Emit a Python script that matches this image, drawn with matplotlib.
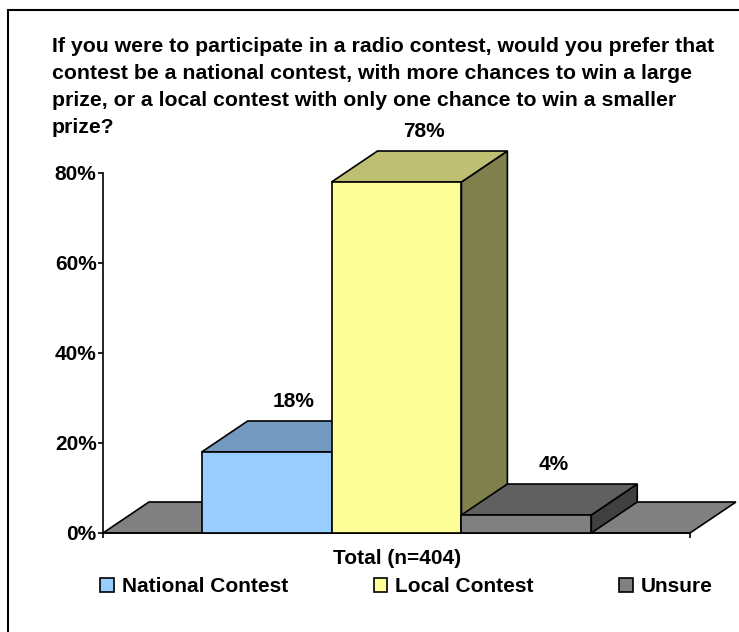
import matplotlib
matplotlib.use('Agg')
import matplotlib.pyplot as plt
from matplotlib.patches import Polygon, Rectangle, Patch

# chart data
categories = ['National Contest', 'Local Contest', 'Unsure']
values = [18, 78, 4]
value_labels = ['18%', '78%', '4%']
ytick_values = [0, 20, 40, 60, 80]
ytick_labels = ['0%', '20%', '40%', '60%', '80%']
group_label = 'Total (n=404)'
title_lines = [
    'If you were to participate in a radio contest, would you prefer that',
    'contest be a national contest, with more chances to win a large',
    'prize, or a local contest with only one chance to win a smaller',
    'prize?',
]

front_colors = ['#99CCFF', '#FFFF99', '#808080']
top_colors = ['#7399BF', '#BFBF73', '#606060']
side_colors = ['#5C7A99', '#80804D', '#404040']
floor_color = '#808080'

plt.rcParams['font.family'] = ['Liberation Sans', 'DejaVu Sans']
plt.rcParams['font.weight'] = 'bold'

W, H = 739, 632
fig = plt.figure(figsize=(W / 100, H / 100), dpi=100)
fig.patch.set_facecolor('white')

# plot area: x axis from px 103 to 690, y axis 0% at px 533, 80% at px 173
ax = fig.add_axes([103 / W, 1 - 533 / H, 587 / W, 360 / H])
ax.set_facecolor('none')
xmin, xmax = -2.26, 2.26
ax.set_xlim(xmin, xmax)
ax.set_ylim(0, 80)

# depth of the 3d effect in data units
dx = 46 / 130
dy = 31 / 4.5

# floor
floor = Polygon([(xmin, 0), (xmax, 0), (xmax + dx, dy), (xmin + dx, dy)],
                closed=True, fc=floor_color, ec='black', lw=1.2,
                clip_on=False, zorder=1)
ax.add_patch(floor)

xs = [-1, 0, 1]
bw = 1.0
for i, (x, v) in enumerate(zip(xs, values)):
    z = 3 + i
    l, r = x - bw / 2, x + bw / 2
    side = Polygon([(r, 0), (r + dx, dy), (r + dx, v + dy), (r, v)],
                   fc=side_colors[i], ec='black', lw=1.2, clip_on=False, zorder=z)
    top = Polygon([(l, v), (r, v), (r + dx, v + dy), (l + dx, v + dy)],
                  fc=top_colors[i], ec='black', lw=1.2, clip_on=False, zorder=z)
    front = Rectangle((l, 0), bw, v, fc=front_colors[i], ec='black', lw=1.2,
                      clip_on=False, zorder=z)
    ax.add_patch(side)
    ax.add_patch(top)
    ax.add_patch(front)
    ax.text(x + 27 / 130, v + dy + 14 / 4.5, value_labels[i], ha='center',
            va='baseline', fontsize=15, fontweight='bold', zorder=10)

for s in ['top', 'right']:
    ax.spines[s].set_visible(False)
for s in ['left', 'bottom']:
    ax.spines[s].set_linewidth(1.2)
    ax.spines[s].set_zorder(2)

ax.set_yticks(ytick_values)
ax.set_yticklabels(ytick_labels)
ax.set_xticks([xmin, xmax])
ax.set_xticklabels(['', ''])
ax.tick_params(axis='both', direction='out', length=3.6, width=1.2, pad=1,
               labelsize=15)

fig.text(397 / W, 1 - 558 / H, group_label, ha='center', va='center',
         fontsize=15, fontweight='bold')

# title
for k, line in enumerate(title_lines):
    fig.text(52 / W, 1 - (52 + 27 * k) / H, line, ha='left', va='baseline',
             fontsize=15.3, fontweight='bold')

# legend
handles = [Patch(fc=c, ec='black', lw=1.2) for c in front_colors]
fig.legend(handles, categories, loc='center left',
           bbox_to_anchor=(100 / W, 1 - 587 / H), ncol=3, frameon=False,
           prop={'size': 15, 'weight': 'bold'}, handlelength=0.67,
           handleheight=0.67, handletextpad=0.38, columnspacing=4.1,
           borderpad=0, borderaxespad=0)

# outer frame
fig.patches.append(Rectangle((8 / W, -0.1), 2, 1.1 - 10 / H,
                             transform=fig.transFigure, fill=False,
                             ec='black', lw=1.5))

fig.savefig('out.png', dpi=100)
